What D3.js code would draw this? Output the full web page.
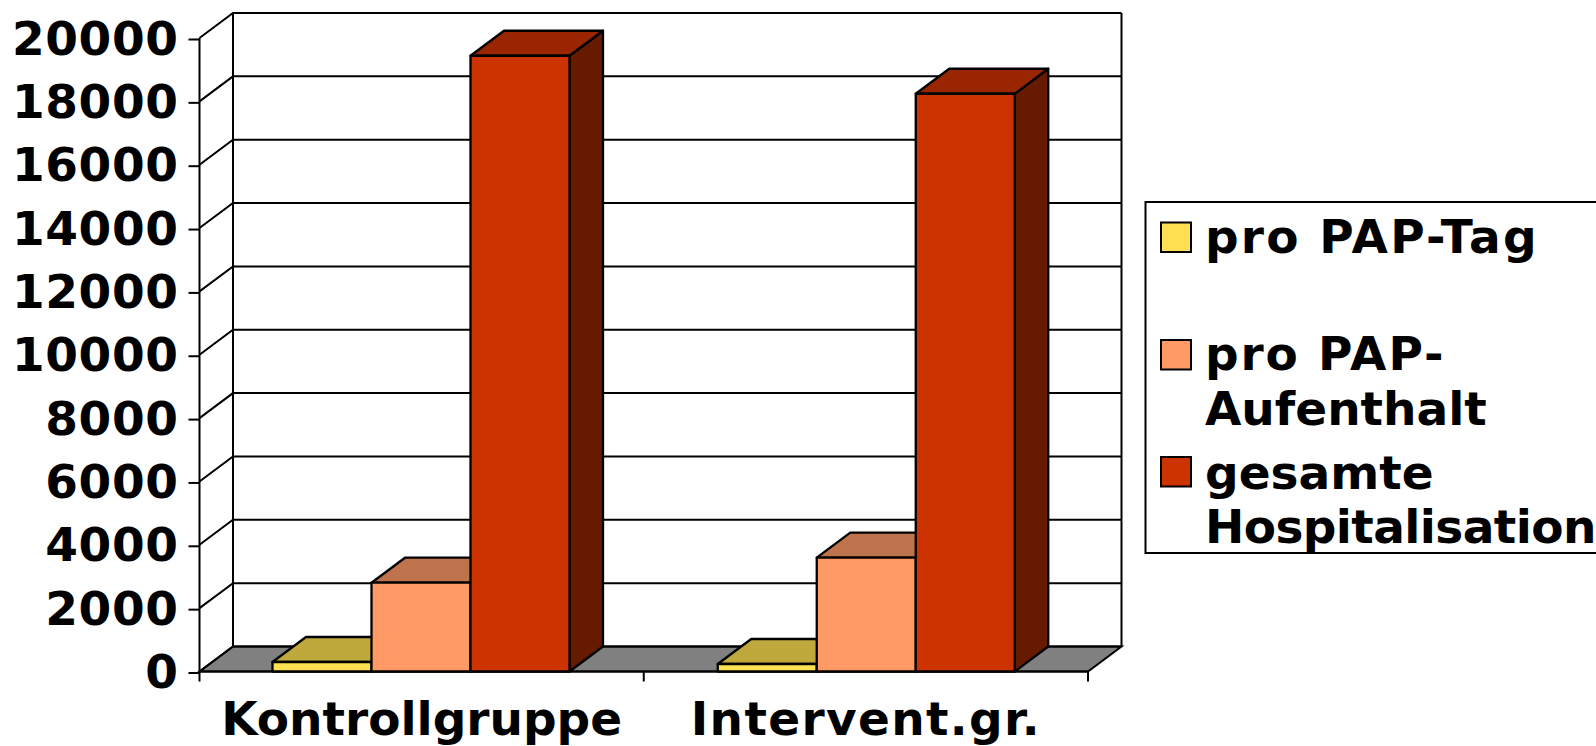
<!DOCTYPE html>
<html>
<head>
<meta charset="utf-8">
<script src="https://cdn.jsdelivr.net/npm/d3@7"></script>
<style>
  html, body { margin: 0; padding: 0; background: #fff; overflow: hidden; }
  svg { display: block; }
  text { font-family: "DejaVu Sans", sans-serif; font-weight: bold; fill: #000; }
  .axis path { display: none; }
  .axis line { stroke: #000; stroke-width: 2; }
</style>
</head>
<body>
<div id="chart"></div>
<script>
const categories = ['Kontrollgruppe', 'Intervent.gr.']
const seriesNames = ['pro PAP-Tag', 'pro PAP-Aufenthalt', 'gesamte Hospitalisation']
const tagValues = [300, 237]
const aufenthaltValues = [2803, 3593]
const hospitalValues = [19440, 18240]
const yTicks = [0, 2000, 4000, 6000, 8000, 10000, 12000, 14000, 16000, 18000, 20000]
const legendLines = [['pro PAP-Tag'], ['pro PAP-', 'Aufenthalt'], ['gesamte', 'Hospitalisation']]

const width = 1596
const height = 746
const depth = { x: 33.5, y: -25 }
const plot = { left: 199.5, right: 1088, top: 38, bottom: 671.5 }
const fontSize = 47

const colors = [
  { front: '#FFE050', top: '#BFA83C', side: '#806F28' },
  { front: '#FF9966', top: '#BF734D', side: '#804D33' },
  { front: '#CC3300', top: '#992600', side: '#661A00' }
]
const values = [tagValues, aufenthaltValues, hospitalValues]

const x = d3.scaleBand()
  .domain(categories)
  .range([plot.left, plot.right])

// the bar groups sit a little wider apart than the axis ticks in the original
const xGroup = d3.scaleBand()
  .domain(categories)
  .range([plot.left, 1090])

const xSeries = d3.scaleBand()
  .domain(seriesNames)
  .range([73, 370])

const y = d3.scaleLinear()
  .domain([0, 20000])
  .range([plot.bottom, plot.top])

const svg = d3.select('#chart')
  .append('svg')
  .attr('width', width)
  .attr('height', height)

const wall = svg.append('g')
  .attr('fill', 'none')
  .attr('stroke', '#000')
  .attr('stroke-width', 2)

// grey floor
svg.insert('path', 'g')
  .attr('d', quad(plot.left, plot.right, y(0)))
  .attr('fill', '#808080')
  .attr('stroke', '#000')
  .attr('stroke-width', 2)

// grid: each line runs along the back wall and down the left side wall
wall.selectAll('path.grid')
  .data(yTicks)
  .join('path')
  .attr('class', 'grid')
  .attr('d', d => `M${plot.left},${y(d)}L${plot.left + depth.x},${y(d) + depth.y}H${plot.right + depth.x}`)

wall.append('path')
  .attr('d', `M${plot.left},${y(0)}V${y(20000)}`)
wall.append('path')
  .attr('d', `M${plot.left + depth.x},${y(0) + depth.y}V${y(20000) + depth.y}`)
wall.append('path')
  .attr('d', `M${plot.right + depth.x},${y(0) + depth.y}V${y(20000) + depth.y}`)

const yAxis = d3.axisLeft(y)
  .tickValues(yTicks)
  .tickFormat(d3.format('d'))
  .tickSize(11)
  .tickPadding(10)

svg.append('g')
  .attr('class', 'axis')
  .attr('transform', `translate(${plot.left},1)`)
  .call(yAxis)
  .selectAll('text')
  .style('font-size', `${fontSize}px`)
  .style('letter-spacing', '0.6px')

const xAxis = d3.axisBottom(x)
  .tickSize(0)
  .tickPadding(30)

svg.append('g')
  .attr('class', 'axis')
  .attr('transform', `translate(0,${plot.bottom})`)
  .call(xAxis)
  .selectAll('text')
  .style('font-size', `${fontSize}px`)
  .style('letter-spacing', (d, i) => `${[0, 1.35][i]}px`)

// baseline and the category separators under it
const baseline = svg.append('g')
  .attr('stroke', '#000')
  .attr('stroke-width', 2)

baseline.append('line')
  .attr('x1', plot.left)
  .attr('x2', plot.right)
  .attr('y1', y(0))
  .attr('y2', y(0))

baseline.selectAll('line.sep')
  .data([plot.left, x(categories[1]), plot.right])
  .join('line')
  .attr('class', 'sep')
  .attr('x1', d => d)
  .attr('x2', d => d)
  .attr('y1', y(0))
  .attr('y2', y(0) + 10)

// bars, drawn back to front
const groups = svg.selectAll('g.group')
  .data(categories)
  .join('g')
  .attr('class', 'group')
  .attr('transform', d => `translate(${xGroup(d)},0)`)

groups.each(function (cat, c) {
  const g = d3.select(this)
  seriesNames.forEach((name, s) => {
    const left = xSeries(name)
    const right = left + xSeries.bandwidth()
    const top = y(values[s][c])
    const bar = g.append('g')
      .attr('stroke', '#000')
      .attr('stroke-width', 2.3)
      .attr('stroke-linejoin', 'round')

    bar.append('path')
      .attr('d', `M${right},${top}L${right + depth.x},${top + depth.y}V${y(0) + depth.y}L${right},${y(0)}Z`)
      .attr('fill', colors[s].side)
    bar.append('path')
      .attr('d', quad(left, right, top))
      .attr('fill', colors[s].top)
    bar.append('rect')
      .attr('x', left)
      .attr('y', top)
      .attr('width', xSeries.bandwidth())
      .attr('height', y(0) - top)
      .attr('fill', colors[s].front)
  })
})

// legend box runs off the right edge like the original
const legend = svg.append('g')

legend.append('rect')
  .attr('x', 1145.5)
  .attr('y', 202)
  .attr('width', 470)
  .attr('height', 351)
  .attr('fill', '#fff')
  .attr('stroke', '#000')
  .attr('stroke-width', 2)

const legendBaselines = [[253], [370, 425], [489, 543]]
const legendSpacing = [[2.2], [1.9, 0], [0, -0.6]]
const swatchTops = [222.5, 340, 457]

legendLines.forEach((lines, i) => {
  legend.append('rect')
    .attr('x', 1161)
    .attr('y', swatchTops[i])
    .attr('width', 30)
    .attr('height', 29.5)
    .attr('fill', colors[i].front)
    .attr('stroke', '#000')
    .attr('stroke-width', 2)
  lines.forEach((line, j) => {
    legend.append('text')
      .attr('x', 1205)
      .attr('y', legendBaselines[i][j])
      .style('font-size', `${fontSize}px`)
      .style('letter-spacing', `${legendSpacing[i][j]}px`)
      .text(line)
  })
})

function quad (x0, x1, yFront) {
  return `M${x0},${yFront}L${x0 + depth.x},${yFront + depth.y}H${x1 + depth.x}L${x1},${yFront}Z`
}
</script>
</body>
</html>
